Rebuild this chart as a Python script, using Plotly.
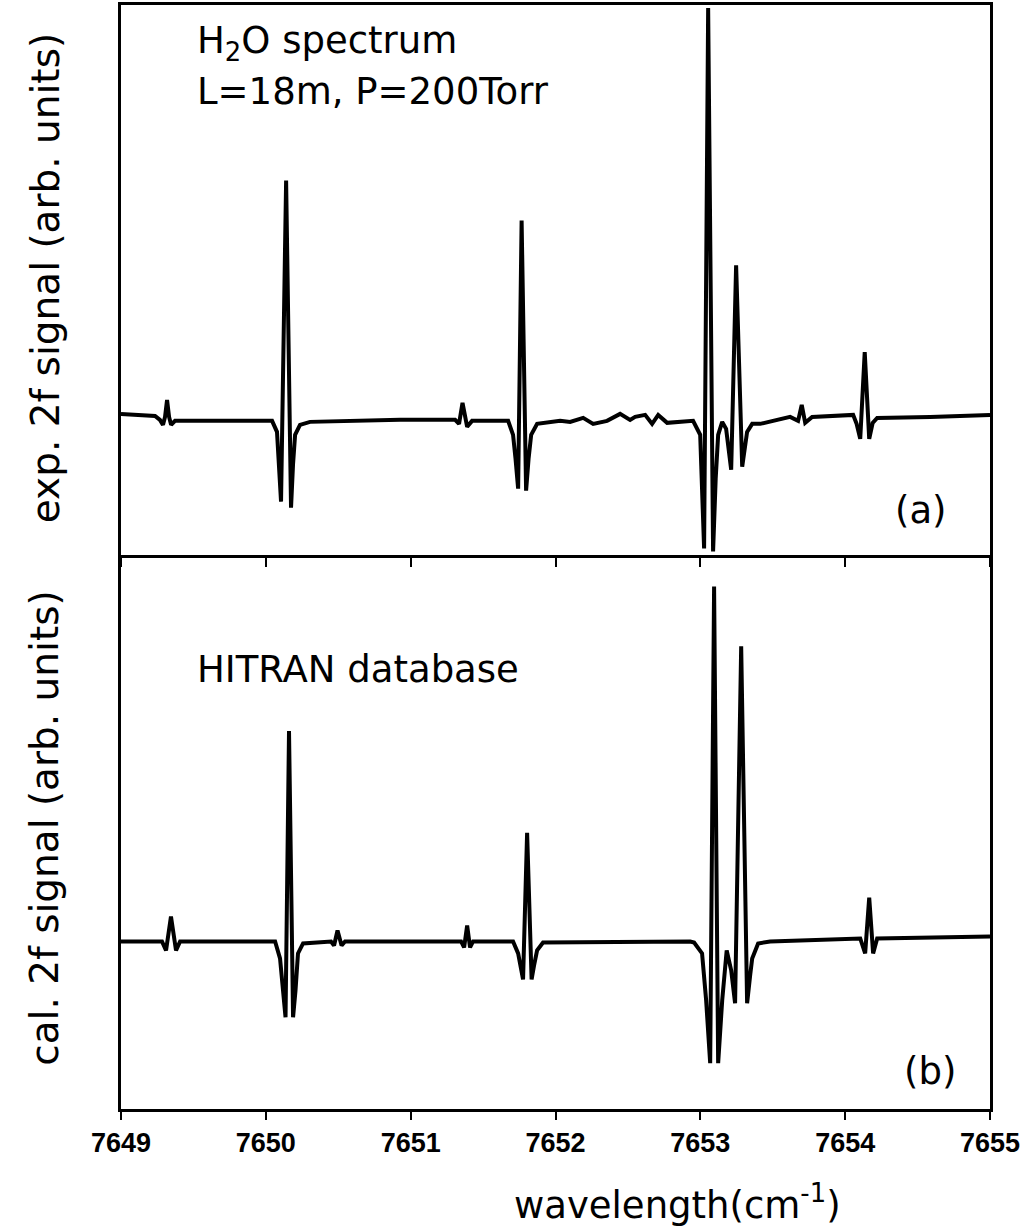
import plotly.graph_objects as go
from plotly.subplots import make_subplots

# ---- data ----
# (a) experimental 2f signal, wavenumber in cm^-1, signal in arb. units
wn_exp = [7649.000, 7649.235, 7649.269, 7649.290, 7649.304, 7649.318, 7649.332, 7649.346, 7649.373,
          7649.891, 7650.043, 7650.077, 7650.091, 7650.105, 7650.140, 7650.174, 7650.188, 7650.202,
          7650.236, 7650.305, 7650.927, 7651.307, 7651.334, 7651.358, 7651.390, 7651.424,
          7651.673, 7651.707, 7651.724, 7651.742, 7651.766, 7651.797, 7651.814, 7651.832, 7651.873,
          7652.032, 7652.101, 7652.191, 7652.260, 7652.356, 7652.446, 7652.515, 7652.550, 7652.619,
          7652.667, 7652.709, 7652.771, 7652.881, 7652.950, 7652.999, 7653.012, 7653.026, 7653.054,
          7653.088, 7653.106, 7653.123, 7653.151, 7653.178, 7653.213, 7653.247, 7653.289, 7653.306,
          7653.323, 7653.358, 7653.413, 7653.620, 7653.675, 7653.700, 7653.724, 7653.772,
          7654.055, 7654.079, 7654.104, 7654.135, 7654.166, 7654.190, 7654.221, 7654.587, 7654.884,
          7655.000]
sig_exp = [0.05, 0.03, -0.01, -0.06, 0.02, 0.19, 0.02, -0.06, -0.02,
           -0.02, -0.02, -0.13, -0.43, -0.83, 2.39, -0.89, -0.45, -0.16,
           -0.06, -0.03, -0.01, -0.01, -0.05, 0.16, -0.08, -0.02,
           -0.02, -0.16, -0.40, -0.70, 1.99, -0.72, -0.40, -0.16, -0.05,
           -0.02, -0.03, 0.01, -0.05, -0.02, 0.05, -0.01, 0.02, 0.04,
           -0.05, 0.04, -0.04, -0.03, -0.02, -0.16, -0.60, -1.30, 4.12,
           -1.33, -0.60, -0.16, -0.03, -0.10, -0.51, 1.54, -0.48, -0.28,
           -0.13, -0.05, -0.05, 0.02, -0.02, 0.14, -0.04, 0.02,
           0.04, -0.05, -0.20, 0.67, -0.20, -0.04, 0.01, 0.02, 0.04,
           0.04]

# (b) calculated 2f signal from HITRAN
wn_cal = [7649.000, 7649.283, 7649.311, 7649.345, 7649.380, 7649.408,
          7650.030, 7650.064, 7650.098, 7650.119, 7650.136, 7650.160, 7650.188, 7650.205, 7650.222, 7650.257,
          7650.450, 7650.471, 7650.495, 7650.523, 7650.547,
          7651.348, 7651.369, 7651.390, 7651.410, 7651.431,
          7651.707, 7651.742, 7651.759, 7651.776, 7651.804, 7651.835, 7651.852, 7651.873, 7651.914,
          7652.930, 7652.957, 7653.012, 7653.040, 7653.068, 7653.095, 7653.123, 7653.151, 7653.182,
          7653.213, 7653.240, 7653.282, 7653.323, 7653.344, 7653.358, 7653.399, 7653.482,
          7654.104, 7654.138, 7654.166, 7654.193, 7654.221, 7655.000]
sig_cal = [0.00, 0.00, -0.09, 0.25, -0.09, 0.00,
           0.00, 0.00, -0.17, -0.49, -0.76, 2.11, -0.76, -0.49, -0.12, -0.02,
           0.00, -0.04, 0.11, -0.04, 0.00,
           0.00, -0.06, 0.16, -0.06, 0.00,
           0.00, -0.12, -0.24, -0.38, 1.09, -0.38, -0.24, -0.09, -0.01,
           0.00, -0.01, -0.12, -0.59, -1.22, 3.56, -1.22, -0.59, -0.09,
           -0.29, -0.62, 2.96, -0.62, -0.34, -0.17, -0.02, 0.00,
           0.03, -0.12, 0.44, -0.12, 0.03, 0.05]

x_ticks = [7649, 7650, 7651, 7652, 7653, 7654, 7655]
x_range = [7649, 7655]
y_range_exp = [-1.36, 4.15]
y_range_cal = [-1.68, 3.88]

# ---- figure ----
W, H = 1035, 1230
ML, MR, MT, MB = 121, 45, 2, 121
split = (1109 - 553) / (H - MT - MB)

fig = make_subplots(rows=2, cols=1, shared_xaxes=False, vertical_spacing=0)
line_style = dict(color="black", width=4)
fig.add_trace(go.Scatter(x=wn_exp, y=sig_exp, mode="lines", line=line_style,
                         showlegend=False, hoverinfo="skip"), row=1, col=1)
fig.add_trace(go.Scatter(x=wn_cal, y=sig_cal, mode="lines", line=line_style,
                         showlegend=False, hoverinfo="skip"), row=2, col=1)

axis_common = dict(showline=True, linecolor="black", linewidth=3,
                   showgrid=False, zeroline=False)
fig.update_layout(
    width=W, height=H,
    margin=dict(l=ML, r=MR, t=MT, b=MB),
    paper_bgcolor="white", plot_bgcolor="white",
    xaxis=dict(domain=[0, 1], range=x_range, tickvals=x_ticks, showticklabels=False,
               ticks="outside", ticklen=9, tickwidth=2, tickcolor="black",
               anchor="y", mirror=True, **axis_common),
    yaxis=dict(domain=[split, 1], range=y_range_exp, showticklabels=False, ticks="",
               anchor="x", mirror=True, **axis_common),
    xaxis2=dict(domain=[0, 1], range=x_range, tickvals=x_ticks,
                ticktext=[str(v) for v in x_ticks],
                ticks="outside", ticklen=8, tickwidth=2, tickcolor="black",
                tickfont=dict(family="Liberation Sans", size=27, color="black", weight="bold"),
                anchor="y2", mirror=False, **axis_common),
    yaxis2=dict(domain=[0, split], range=y_range_cal, showticklabels=False, ticks="",
                anchor="x2", mirror=True, **axis_common),
)

PW = W - ML - MR
PH = H - MT - MB


def px(xp):
    return (xp - ML) / PW


def py(yp):
    return (H - MB - yp) / PH


font_txt = dict(family="DejaVu Sans", size=37, color="black")
ann = [
    dict(text="H<sub>2</sub>O spectrum", x=px(195), y=py(66), xanchor="left", yanchor="bottom"),
    dict(text="L=18m, P=200Torr", x=px(195), y=py(112), xanchor="left", yanchor="bottom"),
    dict(text="(a)", x=px(921), y=py(509), xanchor="center", yanchor="middle"),
    dict(text="HITRAN database", x=px(195), y=py(692), xanchor="left", yanchor="bottom"),
    dict(text="(b)", x=px(930), y=py(1071), xanchor="center", yanchor="middle"),
    dict(text="wavelength(cm<sup>-1</sup>)", x=px(677), y=py(1203), xanchor="center", yanchor="middle"),
    dict(text="exp. 2f signal (arb. units)", x=px(45), y=py(276), xanchor="center", yanchor="middle",
         textangle=-90, font=dict(family="DejaVu Sans", size=39, color="black")),
    dict(text="cal. 2f signal (arb. units)", x=px(45), y=py(828), xanchor="center", yanchor="middle",
         textangle=-90, font=dict(family="DejaVu Sans", size=39, color="black")),
]
for a in ann:
    a.update(xref="paper", yref="paper", showarrow=False)
    a.setdefault("font", font_txt)
fig.update_layout(annotations=ann)

fig.write_html("out.html")
